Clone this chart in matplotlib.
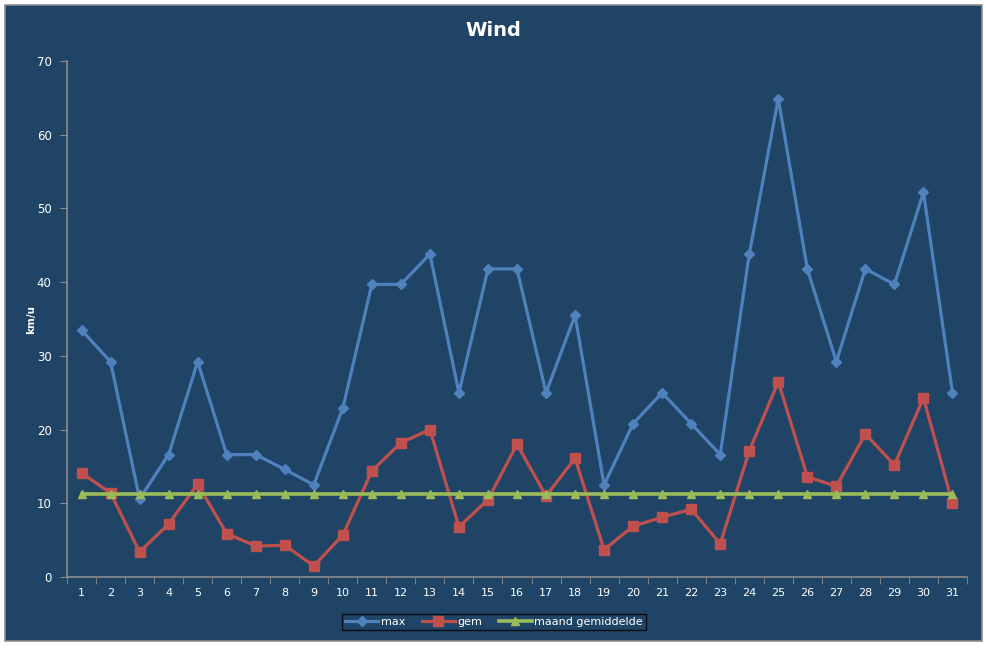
import matplotlib
matplotlib.use("Agg")
import matplotlib.pyplot as plt
from matplotlib.patches import Rectangle
import numpy as np

days = list(range(1, 32))
max_wind = [33.5, 29.2, 10.6, 16.6, 29.2, 16.6, 16.6, 14.6, 12.5, 22.9,
            39.7, 39.7, 43.8, 25.0, 41.8, 41.8, 25.0, 35.5, 12.5, 20.8,
            25.0, 20.8, 16.6, 43.8, 64.9, 41.8, 29.2, 41.8, 39.7, 52.2, 25.0]
gem_wind = [14.1, 11.4, 3.4, 7.2, 12.6, 5.9, 4.2, 4.3, 1.5, 5.7,
            14.4, 18.2, 20.0, 6.8, 10.5, 18.0, 11.0, 16.1, 3.7, 6.9,
            8.1, 9.2, 4.5, 17.1, 26.5, 13.6, 12.3, 19.4, 15.2, 24.3, 10.0]
maand_avg = [11.3] * 31
y_ticks = [0, 10, 20, 30, 40, 50, 60, 70]

BG = '#1F4466'
W, H = 987, 648
fig = plt.figure(figsize=(W / 100, H / 100), dpi=100, facecolor='white')
fig.patches.append(Rectangle((5 / W, 7 / H), 977 / W, 636 / H, transform=fig.transFigure,
                             facecolor=BG, edgecolor='#8C8C8C', linewidth=1.2, zorder=-5))

ax = fig.add_axes([67 / W, (H - 577) / H, 900 / W, (577 - 61) / H])
ax.set_facecolor(BG)
ax.patch.set_alpha(0)

ax.plot(days, max_wind, color='#4F81BD', lw=2.3, marker='D', ms=5, label='max', zorder=3)
ax.plot(days, gem_wind, color='#C0504D', lw=2.3, marker='s', ms=6.5, label='gem', zorder=3)
ax.plot(days, maand_avg, color='#9BBB59', lw=2.6, marker='^', ms=6, label='maand gemiddelde', zorder=4)

ax.set_xlim(0.5, 31.5)
ax.set_ylim(0, 70)
ax.set_yticks(y_ticks)
ax.set_xticks(days)
ax.set_xticks(np.arange(0.5, 32, 1), minor=True)
ax.tick_params(axis='x', which='major', length=0, pad=8, labelsize=8, colors='white')
ax.tick_params(axis='x', which='minor', length=5, color='#8C8C8C', direction='out')
ax.tick_params(axis='y', which='major', length=5, color='#8C8C8C', labelsize=8.5,
               labelcolor='white', pad=6)

for s in ['top', 'right']:
    ax.spines[s].set_visible(False)
for s in ['left', 'bottom']:
    ax.spines[s].set_color('#8C8C8C')
    ax.spines[s].set_linewidth(1.2)

fig.text(493 / W, 1 - 31 / H, 'Wind', ha='center', va='center', color='white',
         fontsize=14, fontweight='bold')
fig.text(31 / W, 1 - 320 / H, 'km/u', ha='center', va='center', color='white',
         fontsize=7.5, fontweight='bold', rotation=90)

leg = ax.legend(loc='center', bbox_to_anchor=((494 - 67) / 900, (577 - 622) / 516),
                ncol=3, frameon=True, fontsize=8, labelcolor='white',
                handlelength=3, columnspacing=1.5, handletextpad=0.2,
                borderpad=0.3, fancybox=False)
leg.get_frame().set_facecolor(BG)
leg.get_frame().set_edgecolor('black')
leg.get_frame().set_linewidth(1.0)

fig.savefig('out.png', dpi=100, facecolor='white')
